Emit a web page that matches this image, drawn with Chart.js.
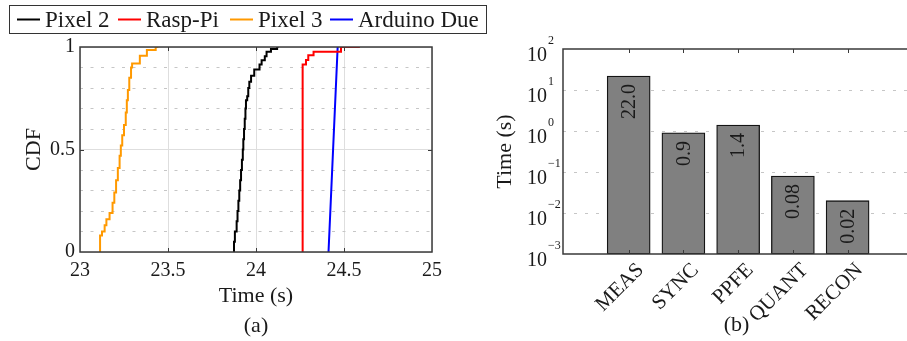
<!DOCTYPE html>
<html>
<head>
<meta charset="utf-8">
<script src="https://cdn.jsdelivr.net/npm/chart.js@4.4.1/dist/chart.umd.min.js"></script>
<style>
  html, body { margin: 0; padding: 0; background: #fff; overflow: hidden; width: 907px; height: 341px; }
  #wrap { position: relative; width: 907px; height: 341px; }
  #cdf { position: absolute; left: 0; top: 0; }
  #times { position: absolute; left: 470px; top: 0; }
</style>
</head>
<body>
<div id="wrap">
  <canvas id="cdf" width="490" height="341"></canvas>
  <canvas id="times" width="440" height="341"></canvas>
</div>
<script>
// ---------- (a) CDF data ----------
const pixel2Time = [23.875, 23.88, 23.89, 23.895, 23.90, 23.905, 23.91, 23.915, 23.92, 23.925, 23.928, 23.932, 23.936, 23.94, 23.943, 23.95, 23.956, 23.962, 23.972, 23.99, 24.02, 24.032, 24.05, 24.06, 24.085, 24.12, 24.128];
const pixel2Cdf  = [0, 0.05, 0.10, 0.15, 0.20, 0.25, 0.30, 0.35, 0.40, 0.45, 0.50, 0.55, 0.60, 0.65, 0.70, 0.74, 0.76, 0.80, 0.83, 0.86, 0.89, 0.915, 0.935, 0.955, 0.977, 0.99, 1.0];

const raspTime = [24.265, 24.265, 24.284, 24.297, 24.327, 24.483, 24.59];
const raspCdf  = [0, 0.075, 0.915, 0.937, 0.96, 0.977, 1.0];

const pixel3Time = [23.114, 23.114, 23.125, 23.14, 23.15, 23.168, 23.185, 23.195, 23.205, 23.215, 23.225, 23.232, 23.24, 23.25, 23.26, 23.266, 23.272, 23.28, 23.29, 23.296, 23.34, 23.38, 23.43, 23.445];
const pixel3Cdf  = [0, 0.04, 0.08, 0.10, 0.13, 0.16, 0.19, 0.24, 0.29, 0.35, 0.41, 0.47, 0.52, 0.57, 0.62, 0.68, 0.74, 0.79, 0.85, 0.90, 0.92, 0.957, 0.985, 1.0];

const dueTime = [24.412, 24.438, 24.464];
const dueCdf  = [0, 0.5, 1.0];

const cdfTimeTicks = [23, 23.5, 24, 24.5, 25];
const cdfProbTicks = [0, 0.5, 1];
const cdfGridTicks = [0, 0.1, 0.2, 0.3, 0.4, 0.5, 0.6, 0.7, 0.8, 0.9, 1];

// ---------- (b) stage times ----------
const stages = ['MEAS', 'SYNC', 'PPFE', 'QUANT', 'RECON'];
const stageTimes = [22.0, 0.9, 1.4, 0.08, 0.02];
const timeExponents = [-3, -2, -1, 0, 1, 2];

const FONT = "'Liberation Serif', 'Times New Roman', serif";
const INK = '#1a1a1a';
const FRAME = '#3a3a3a';
Chart.defaults.font.family = FONT;
Chart.defaults.color = INK;

const zip = (xs, ys) => xs.map((x, i) => ({ x: x, y: ys[i] }));
const near = (a, b) => Math.abs(a - b) < 1e-6;
const isMajorProb = v => cdfProbTicks.some(t => near(t, v));

// custom boxed legend for (a)
const legendItemX = [17, 118, 230, 330];
const boxedLegend = {
  id: 'boxedLegend',
  afterDraw(chart) {
    const ctx = chart.ctx;
    ctx.save();
    ctx.font = '23px ' + FONT;
    ctx.textBaseline = 'middle';
    const y = 19.5;
    chart.data.datasets.forEach((ds, i) => {
      const x = legendItemX[i];
      ctx.strokeStyle = ds.borderColor;
      ctx.lineWidth = 2;
      ctx.beginPath(); ctx.moveTo(x, y); ctx.lineTo(x + 23, y); ctx.stroke();
      ctx.fillStyle = INK;
      ctx.textAlign = 'left';
      ctx.fillText(ds.label, x + 28, y + 1);
    });
    ctx.strokeStyle = '#333';
    ctx.lineWidth = 1;
    ctx.strokeRect(9.5, 5.5, 477, 28);
    ctx.restore();
  }
};

const frameA = {
  id: 'frameA',
  afterDatasetsDraw(chart) {
    const { ctx, chartArea: a, scales } = chart;
    ctx.save();
    ctx.strokeStyle = FRAME;
    ctx.lineWidth = 1.5;
    ctx.strokeRect(a.left, a.top, a.right - a.left, a.bottom - a.top);
    ctx.lineWidth = 1;
    ctx.beginPath();
    cdfTimeTicks.slice(1, -1).forEach(v => {
      const px = Math.round(scales.x.getPixelForValue(v)) + 0.5;
      ctx.moveTo(px, a.bottom); ctx.lineTo(px, a.bottom - 4);
      ctx.moveTo(px, a.top); ctx.lineTo(px, a.top + 4);
    });
    cdfProbTicks.slice(1, -1).forEach(v => {
      const py = Math.round(scales.y.getPixelForValue(v)) + 0.5;
      ctx.moveTo(a.left, py); ctx.lineTo(a.left + 4, py);
      ctx.moveTo(a.right, py); ctx.lineTo(a.right - 4, py);
    });
    ctx.stroke();
    ctx.restore();
  }
};

new Chart(document.getElementById('cdf'), {
  type: 'line',
  data: {
    datasets: [
      { label: 'Pixel 2', data: zip(pixel2Time, pixel2Cdf), borderColor: '#000000', stepped: 'after' },
      { label: 'Rasp-Pi', data: zip(raspTime, raspCdf), borderColor: '#ff0000', stepped: 'after' },
      { label: 'Pixel 3', data: zip(pixel3Time, pixel3Cdf), borderColor: '#ff9900', stepped: 'after' },
      { label: 'Arduino Due', data: zip(dueTime, dueCdf), borderColor: '#0000ff', stepped: false }
    ]
  },
  options: {
    responsive: false,
    animation: false,
    layout: { padding: { top: 47, right: 58, bottom: 0, left: 0 } },
    plugins: { legend: { display: false }, tooltip: { enabled: false } },
    elements: { point: { radius: 0 }, line: { borderWidth: 2, tension: 0 } },
    scales: {
      x: {
        type: 'linear', min: 23, max: 25,
        afterBuildTicks: s => { s.ticks = cdfTimeTicks.map(v => ({ value: v })); },
        ticks: { autoSkip: false, padding: 7, font: { size: 20 }, maxRotation: 0, callback: v => String(v) },
        grid: { color: '#dedede', lineWidth: 1, drawTicks: false },
        border: { display: false },
        title: { display: true, text: ['Time (s)', '(a)'], font: { size: 22, lineHeight: 30 / 22 }, padding: { top: 0, bottom: 0 } },
        afterFit: s => { s.height = 89; }
      },
      y: {
        type: 'linear', min: 0, max: 1,
        afterBuildTicks: s => { s.ticks = cdfGridTicks.map(v => ({ value: v })); },
        ticks: { autoSkip: false, padding: 5, font: { size: 20 }, callback: v => isMajorProb(v) ? String(v) : '' },
        grid: { color: c => (c.tick && isMajorProb(c.tick.value)) ? '#dedede' : '#c6c6c6', lineWidth: 1, drawTicks: false },
        border: { display: false, dash: c => (c.tick && isMajorProb(c.tick.value)) ? [] : [3, 7.5] },
        title: { display: true, text: 'CDF', font: { size: 22 }, padding: { top: 21, bottom: 0 } },
        afterFit: s => { s.width = 80; }
      }
    }
  },
  plugins: [boxedLegend, frameA]
});

// ---------- (b) ----------
const expText = e => (e < 0 ? '\u2212' + (-e) : String(e));
const exponentLabels = {
  id: 'exponentLabels',
  afterDraw(chart) {
    const { ctx, scales } = chart;
    const y = scales.y;
    ctx.save();
    ctx.font = '12px ' + FONT;
    ctx.fillStyle = INK;
    ctx.textAlign = 'left';
    ctx.textBaseline = 'middle';
    y.ticks.forEach(t => {
      const py = y.getPixelForValue(t.value);
      const e = Math.round(Math.log10(t.value));
      ctx.fillText(expText(e), y.right - 15, py - 8);
    });
    ctx.restore();
  }
};

const barLabels = {
  id: 'barLabels',
  afterDatasetsDraw(chart) {
    const ctx = chart.ctx;
    const meta = chart.getDatasetMeta(0);
    ctx.save();
    ctx.font = '20px ' + FONT;
    ctx.fillStyle = INK;
    ctx.textAlign = 'right';
    ctx.textBaseline = 'middle';
    meta.data.forEach((bar, i) => {
      const v = stageTimes[i];
      const txt = v >= 10 ? v.toFixed(1) : String(v);
      ctx.save();
      ctx.translate(bar.x + 1, bar.y + 8);
      ctx.rotate(-Math.PI / 2);
      ctx.fillText(txt, 0, 0);
      ctx.restore();
    });
    ctx.restore();
  }
};

const frameB = {
  id: 'frameB',
  afterDatasetsDraw(chart) {
    const { ctx, chartArea: a, scales } = chart;
    ctx.save();
    ctx.strokeStyle = FRAME;
    ctx.lineWidth = 1.5;
    ctx.beginPath();
    ctx.moveTo(a.right + 5, a.top); ctx.lineTo(a.left, a.top); ctx.lineTo(a.left, a.bottom); ctx.lineTo(a.right + 5, a.bottom);
    ctx.stroke();
    ctx.lineWidth = 1;
    ctx.beginPath();
    scales.x.ticks.forEach(t => {
      const px = Math.round(scales.x.getPixelForValue(t.value)) + 0.5;
      ctx.moveTo(px, a.top); ctx.lineTo(px, a.top + 4);
      ctx.moveTo(px, a.bottom); ctx.lineTo(px, a.bottom - 4);
    });
    ctx.stroke();
    ctx.restore();
  }
};

new Chart(document.getElementById('times'), {
  type: 'bar',
  data: {
    datasets: [{
      label: 'Time (s)',
      data: stages.map((s, i) => ({ x: i + 1, y: stageTimes[i] })),
      backgroundColor: '#808080',
      borderColor: '#141414',
      borderWidth: 1.3,
      borderSkipped: false,
      barThickness: 43
    }]
  },
  options: {
    responsive: false,
    animation: false,
    layout: { padding: { top: 49, right: 0, bottom: 0, left: 0 } },
    plugins: { legend: { display: false }, tooltip: { enabled: false } },
    scales: {
      x: {
        type: 'linear', min: -0.2, max: 6.14, offset: false,
        afterBuildTicks: s => { s.ticks = stages.map((_, i) => ({ value: i + 1 })); },
        ticks: { autoSkip: false, minRotation: 45, maxRotation: 45, labelOffset: 12, padding: 4, font: { size: 21 }, callback: v => stages[Math.round(v) - 1] },
        grid: { display: false, drawTicks: false, offset: false },
        border: { display: false },
        title: { display: true, text: '(b)', font: { size: 22, lineHeight: 30 / 22 }, padding: { top: 0, bottom: 1 } },
        afterFit: s => { s.height = 87; }
      },
      y: {
        type: 'logarithmic', min: 1e-3, max: 1e2,
        afterBuildTicks: s => { s.ticks = timeExponents.map(e => ({ value: Math.pow(10, e) })); },
        ticks: { padding: 16, labelOffset: 7, font: { size: 20 }, callback: () => '10' },
        grid: {
          color: c => (c.tick && (c.tick.value <= 1.0001e-3 || c.tick.value >= 0.9999e2)) ? 'rgba(0,0,0,0)' : '#c6c6c6',
          lineWidth: 1, drawTicks: false
        },
        border: { display: false, dash: [3, 8] },
        title: { display: true, text: 'Time (s)', font: { size: 22 }, padding: { top: 22, bottom: 0 } },
        afterFit: s => { s.width = 93; }
      }
    }
  },
  plugins: [exponentLabels, barLabels, frameB]
});
</script>
</body>
</html>
